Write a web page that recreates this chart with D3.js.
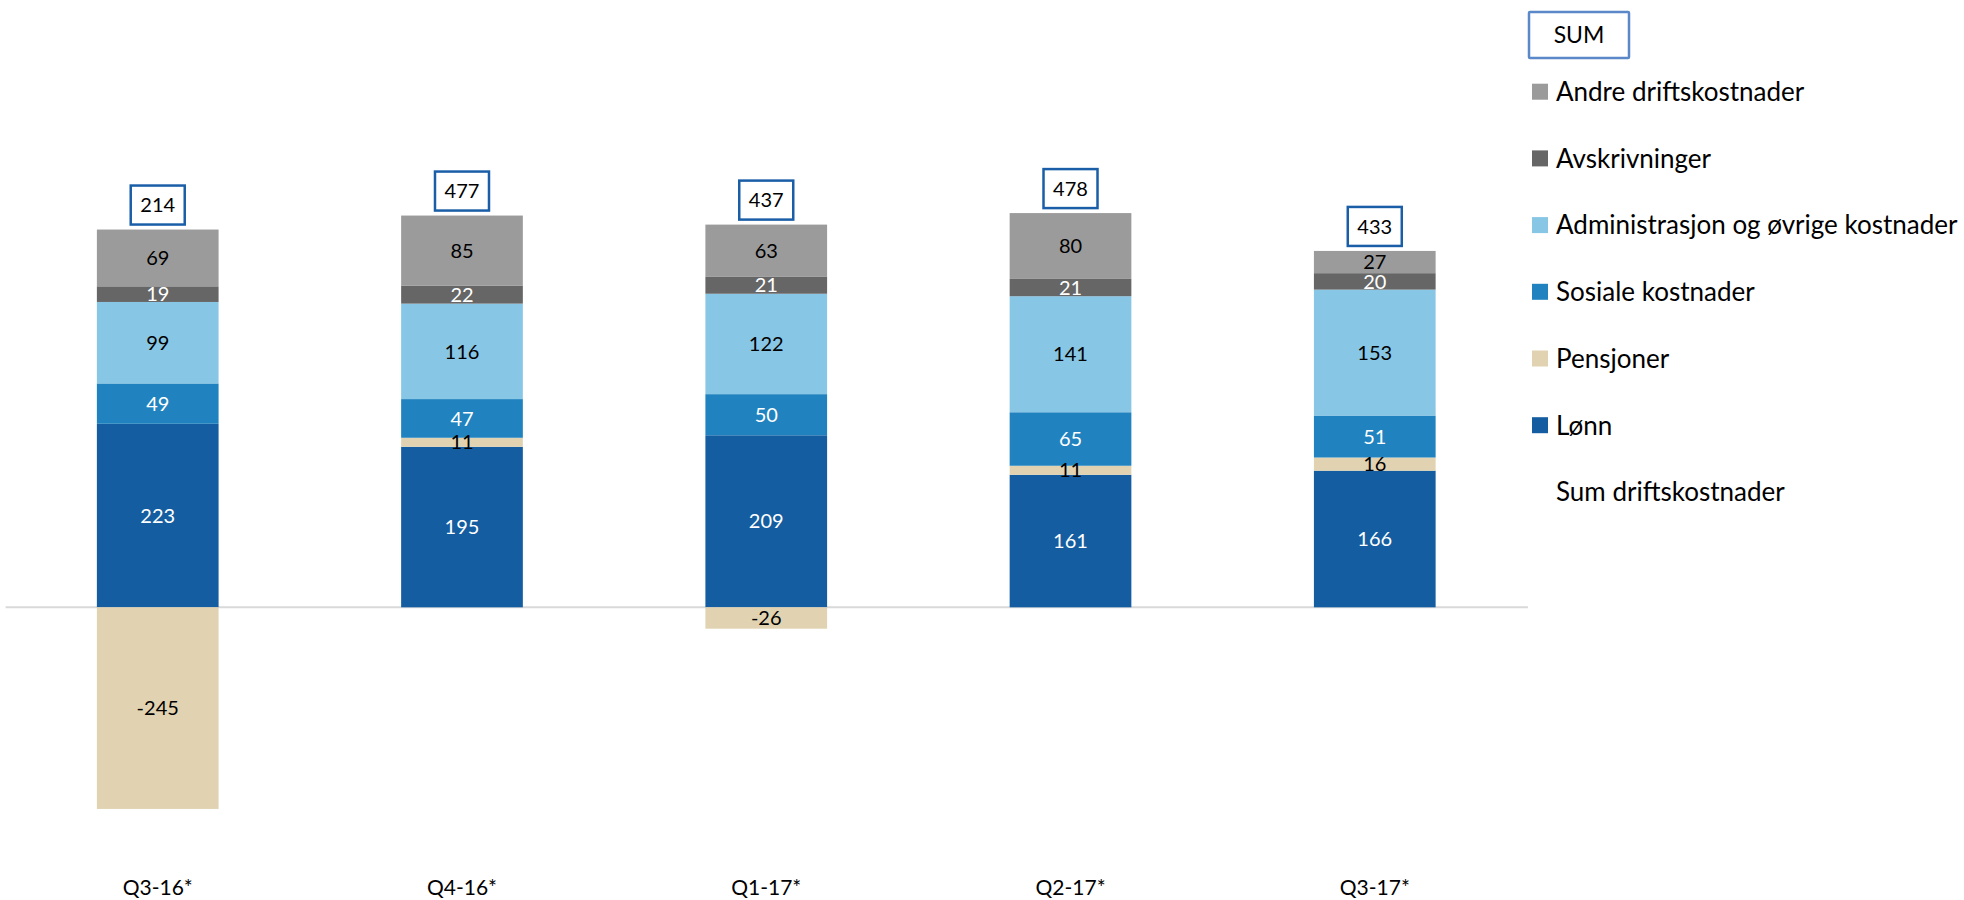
<!DOCTYPE html>
<html>
<head>
<meta charset="utf-8">
<script src="https://cdn.jsdelivr.net/npm/d3@7"></script>
<style>
  html, body { margin: 0; padding: 0; background: #fff; }
  svg { display: block; font-family: Lato, "Open Sans", sans-serif; }
</style>
</head>
<body>
<svg id="chart" width="1964" height="900"></svg>
<script>
// ---- data ----
const categories = ["Q3-16*", "Q4-16*", "Q1-17*", "Q2-17*", "Q3-17*"];
const lonn        = [223, 195, 209, 161, 166];
const pensjoner   = [-245, 11, -26, 11, 16];
const sosiale     = [49, 47, 50, 65, 51];
const admin       = [99, 116, 122, 141, 153];
const avskriv     = [19, 22, 21, 21, 20];
const andre       = [69, 85, 63, 80, 27];
const sumDrift    = [214, 477, 437, 478, 433];

const seriesNames = ["Lønn", "Pensjoner", "Sosiale kostnader", "Administrasjon og øvrige kostnader", "Avskrivninger", "Andre driftskostnader"];
const seriesValues = [lonn, pensjoner, sosiale, admin, avskriv, andre];
const seriesColors = ["#145da0", "#e1d3b1", "#2083bf", "#88c6e5", "#666666", "#9b9b9b"];
const labelColors  = ["#ffffff", "#000000", "#ffffff", "#000000", "#ffffff", "#000000"];
const sumLegendLabel = "Sum driftskostnader";
const sumBoxLabel = "SUM";

// ---- scales ----
const svg = d3.select("#chart");
const x = d3.scaleBand().domain(categories).range([5.6, 1526.9]).paddingInner(0.6).paddingOuter(0.3);
const y = d3.scaleLinear().domain([-300, 600]).range([607.3 + 300 * 0.823, 607.3 - 600 * 0.823]);

// build stacked segments (positive stack up, negative down)
const segments = [];
categories.forEach((c, i) => {
  let pos = 0, neg = 0;
  seriesValues.forEach((vals, s) => {
    const v = vals[i];
    let y0, y1;
    if (v >= 0) { y0 = pos; y1 = pos + v; pos = y1; }
    else { y0 = neg + v; y1 = neg; neg = y0; }
    segments.push({ cat: c, s, v, y0, y1 });
  });
});

// zero line
svg.append("line")
  .attr("x1", x.range()[0]).attr("x2", x.range()[1] + 1)
  .attr("y1", y(0)).attr("y2", y(0))
  .attr("stroke", "#d9d9d9").attr("stroke-width", 2);

// bars
svg.append("g").selectAll("rect").data(segments).join("rect")
  .attr("x", d => x(d.cat))
  .attr("width", x.bandwidth())
  .attr("y", d => y(d.y1))
  .attr("height", d => y(d.y0) - y(d.y1))
  .attr("fill", d => seriesColors[d.s]);

// segment labels
svg.append("g").selectAll("text").data(segments).join("text")
  .attr("x", d => x(d.cat) + x.bandwidth() / 2)
  .attr("y", d => (y(d.y0) + y(d.y1)) / 2)
  .attr("dy", "0.36em")
  .attr("text-anchor", "middle")
  .attr("font-size", 20)
  .attr("fill", d => labelColors[d.s])
  .text(d => d.v);

// sum boxes
const tops = categories.map((c, i) => d3.sum(seriesValues, vals => Math.max(0, vals[i])));
const boxW = 54, boxH = 39;
const sumG = svg.append("g").selectAll("g").data(categories).join("g")
  .attr("transform", (c, i) => `translate(${x(c) + x.bandwidth() / 2},${y(tops[i]) - 5 - boxH / 2})`);
sumG.append("rect")
  .attr("x", -boxW / 2).attr("y", -boxH / 2)
  .attr("width", boxW).attr("height", boxH)
  .attr("fill", "#fff").attr("stroke", "#1a5ea8").attr("stroke-width", 2.5);
sumG.append("text")
  .attr("text-anchor", "middle").attr("dy", "0.36em")
  .attr("font-size", 20).attr("fill", "#000")
  .text((c, i) => sumDrift[i]);

// x axis labels
const xAxis = d3.axisBottom(x).tickSize(0).tickPadding(0);
const gx = svg.append("g").attr("transform", "translate(0,880)").call(xAxis);
gx.select(".domain").remove();
gx.selectAll("text").attr("font-size", 21).attr("fill", "#000")
  .attr("font-family", "Lato, 'Open Sans', sans-serif");

// legend
const legend = svg.append("g");
legend.append("rect")
  .attr("x", 1529).attr("y", 12).attr("width", 100).attr("height", 46)
  .attr("fill", "#fff").attr("stroke", "#5a88c8").attr("stroke-width", 2.5).attr("rx", 1);
legend.append("text")
  .attr("x", 1579).attr("y", 35).attr("dy", "0.36em").attr("text-anchor", "middle")
  .attr("font-size", 23).attr("fill", "#000").text(sumBoxLabel);

const legendItems = seriesNames.map((n, s) => ({ name: n, color: seriesColors[s] })).reverse();
legendItems.push({ name: sumLegendLabel, color: null });
const li = legend.selectAll("g.item").data(legendItems).join("g")
  .attr("class", "item")
  .attr("transform", (d, i) => `translate(1532,${91.7 + i * 66.7})`);
li.filter(d => d.color).append("rect")
  .attr("x", 0).attr("y", -8).attr("width", 16).attr("height", 16)
  .attr("fill", d => d.color);
li.append("text")
  .attr("x", 24).attr("dy", "0.36em")
  .attr("font-size", 26).attr("fill", "#000")
  .text(d => d.name);
</script>
</body>
</html>
